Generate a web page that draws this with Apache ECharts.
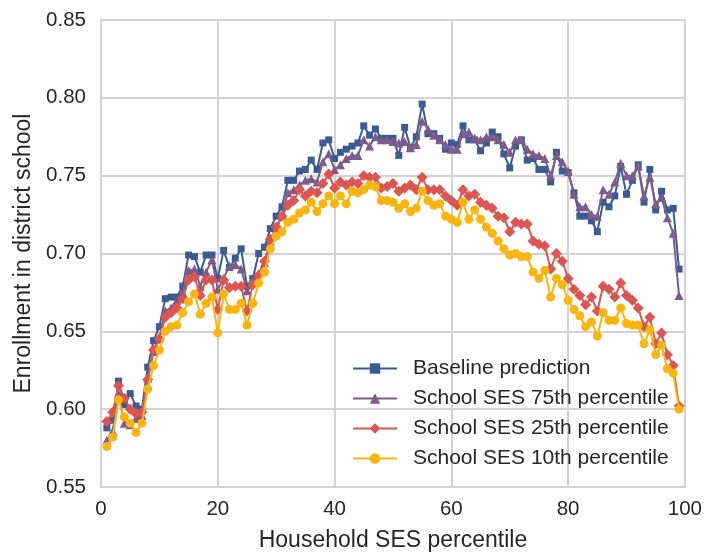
<!DOCTYPE html>
<html>
<head>
<meta charset="utf-8">
<script src="https://cdn.jsdelivr.net/npm/echarts@6/dist/echarts.min.js"></script>
<style>html,body{margin:0;padding:0;background:#fff}#c{width:705px;height:557px}</style>
</head>
<body>
<div id="c"></div>
<script>
const percentiles = Array.from({length: 99}, (_, i) => i + 1);
const seriesNames = ['Baseline prediction', 'School SES 75th percentile', 'School SES 25th percentile', 'School SES 10th percentile'];
const xTicks = [0, 20, 40, 60, 80, 100];
const yTicks = [0.55, 0.60, 0.65, 0.70, 0.75, 0.80, 0.85];

const baseline = [0.588,0.593,0.618,0.603,0.610,0.602,0.600,0.627,0.644,0.653,
0.671,0.672,0.672,0.679,0.699,0.698,0.688,0.699,0.699,0.684,
0.702,0.691,0.697,0.703,0.679,0.684,0.700,0.704,0.716,0.724,
0.730,0.747,0.747,0.753,0.754,0.760,0.754,0.771,0.773,0.761,
0.765,0.767,0.769,0.771,0.782,0.776,0.780,0.774,0.774,0.774,
0.763,0.781,0.768,0.775,0.796,0.777,0.777,0.774,0.767,0.771,
0.770,0.782,0.773,0.773,0.766,0.771,0.778,0.775,0.764,0.755,
0.769,0.773,0.760,0.761,0.754,0.754,0.746,0.765,0.753,0.752,
0.739,0.724,0.724,0.721,0.714,0.733,0.730,0.737,0.756,0.738,
0.747,0.757,0.733,0.754,0.728,0.740,0.728,0.729,0.690];

const ses75 = [0.580,0.586,0.610,0.591,0.590,0.594,0.596,0.620,0.637,0.646,
0.663,0.665,0.670,0.675,0.689,0.690,0.679,0.688,0.696,0.677,
0.684,0.692,0.693,0.690,0.676,0.683,0.687,0.694,0.708,0.715,
0.725,0.739,0.741,0.744,0.747,0.748,0.746,0.759,0.764,0.754,
0.757,0.761,0.763,0.763,0.773,0.769,0.775,0.773,0.773,0.772,
0.771,0.772,0.768,0.770,0.785,0.780,0.776,0.773,0.770,0.767,
0.767,0.777,0.778,0.774,0.773,0.775,0.775,0.773,0.770,0.765,
0.773,0.773,0.767,0.764,0.763,0.761,0.750,0.763,0.759,0.753,
0.738,0.730,0.730,0.725,0.724,0.741,0.738,0.746,0.758,0.750,
0.750,0.756,0.737,0.749,0.732,0.736,0.723,0.713,0.673];

const ses25 = [0.592,0.598,0.615,0.607,0.600,0.597,0.598,0.619,0.638,0.645,
0.659,0.662,0.665,0.671,0.683,0.685,0.673,0.683,0.683,0.664,
0.683,0.678,0.679,0.679,0.663,0.680,0.686,0.695,0.709,0.717,
0.724,0.731,0.734,0.741,0.737,0.740,0.739,0.745,0.751,0.742,
0.746,0.744,0.746,0.745,0.750,0.749,0.749,0.742,0.743,0.745,
0.740,0.742,0.744,0.741,0.749,0.741,0.741,0.741,0.737,0.734,
0.731,0.741,0.737,0.738,0.733,0.731,0.729,0.724,0.723,0.714,
0.720,0.719,0.719,0.708,0.706,0.705,0.690,0.700,0.695,0.684,
0.677,0.673,0.667,0.672,0.663,0.679,0.677,0.672,0.681,0.673,
0.670,0.665,0.653,0.659,0.642,0.649,0.635,0.628,0.602];

const ses10 = [0.576,0.582,0.606,0.595,0.591,0.585,0.591,0.613,0.628,0.638,
0.650,0.653,0.654,0.662,0.669,0.674,0.661,0.668,0.672,0.649,
0.674,0.664,0.664,0.668,0.654,0.668,0.681,0.688,0.703,0.711,
0.714,0.720,0.722,0.726,0.728,0.733,0.727,0.732,0.737,0.732,
0.737,0.732,0.740,0.739,0.741,0.744,0.743,0.734,0.734,0.733,
0.729,0.732,0.727,0.729,0.740,0.734,0.731,0.732,0.724,0.722,
0.720,0.733,0.722,0.728,0.722,0.717,0.713,0.708,0.703,0.699,
0.700,0.698,0.698,0.688,0.684,0.689,0.672,0.684,0.680,0.670,
0.664,0.660,0.653,0.656,0.647,0.662,0.657,0.657,0.665,0.655,
0.654,0.654,0.642,0.651,0.635,0.641,0.626,0.623,0.600];

const allValues = [baseline, ses75, ses25, ses10];
const colors = ['#3b5b95', '#7d5c8c', '#dc5550', '#fcb40e'];
const symbols = ['rect', 'triangle', 'diamond', 'circle'];
const symbolSizes = [7, 9, 11, 9];

const FONT = '"Liberation Sans", Arial, sans-serif';
const chart = echarts.init(document.getElementById('c'), null, {renderer: 'canvas'});
chart.setOption({
  animation: false,
  backgroundColor: '#ffffff',
  textStyle: {fontFamily: FONT, color: '#262626'},
  grid: {left: 101, right: 19, top: 20, bottom: 70, show: true, borderColor: '#d3d3d3', borderWidth: 2, backgroundColor: 'transparent'},
  xAxis: {
    type: 'value', min: xTicks[0], max: xTicks[xTicks.length - 1], interval: 20,
    name: 'Household SES percentile', nameLocation: 'middle', nameGap: 42,
    nameTextStyle: {fontSize: 23, color: '#262626', fontFamily: FONT},
    axisLine: {show: false}, axisTick: {show: false},
    axisLabel: {fontSize: 20.5, color: '#262626', margin: 12, fontFamily: FONT},
    splitLine: {show: true, lineStyle: {color: '#d3d3d3', width: 2}}
  },
  yAxis: {
    type: 'value', min: yTicks[0], max: yTicks[yTicks.length - 1], interval: 0.05,
    name: 'Enrollment in district school', nameLocation: 'middle', nameGap: 66,
    nameTextStyle: {fontSize: 23, color: '#262626', fontFamily: FONT},
    axisLine: {show: false}, axisTick: {show: false},
    axisLabel: {fontSize: 20.5, color: '#262626', margin: 15, fontFamily: FONT, formatter: v => v.toFixed(2)},
    splitLine: {show: true, lineStyle: {color: '#d3d3d3', width: 2}}
  },
  legend: {
    orient: 'vertical', left: 347, top: 353,
    itemWidth: 44, itemHeight: 13, itemGap: 9,
    textStyle: {fontSize: 21, lineHeight: 21, color: '#262626', fontFamily: FONT, padding: [0, 0, 0, 11]},
    data: seriesNames
  },
  series: allValues.map((vals, k) => ({
    name: seriesNames[k],
    type: 'line',
    data: percentiles.map((p, i) => [p, vals[i]]),
    symbol: symbols[k],
    symbolSize: symbolSizes[k],
    showSymbol: true,
    color: colors[k],
    lineStyle: {width: 2, color: colors[k]},
    itemStyle: {color: colors[k]},
    z: 2 + k
  }))
});
</script>
</body>
</html>
